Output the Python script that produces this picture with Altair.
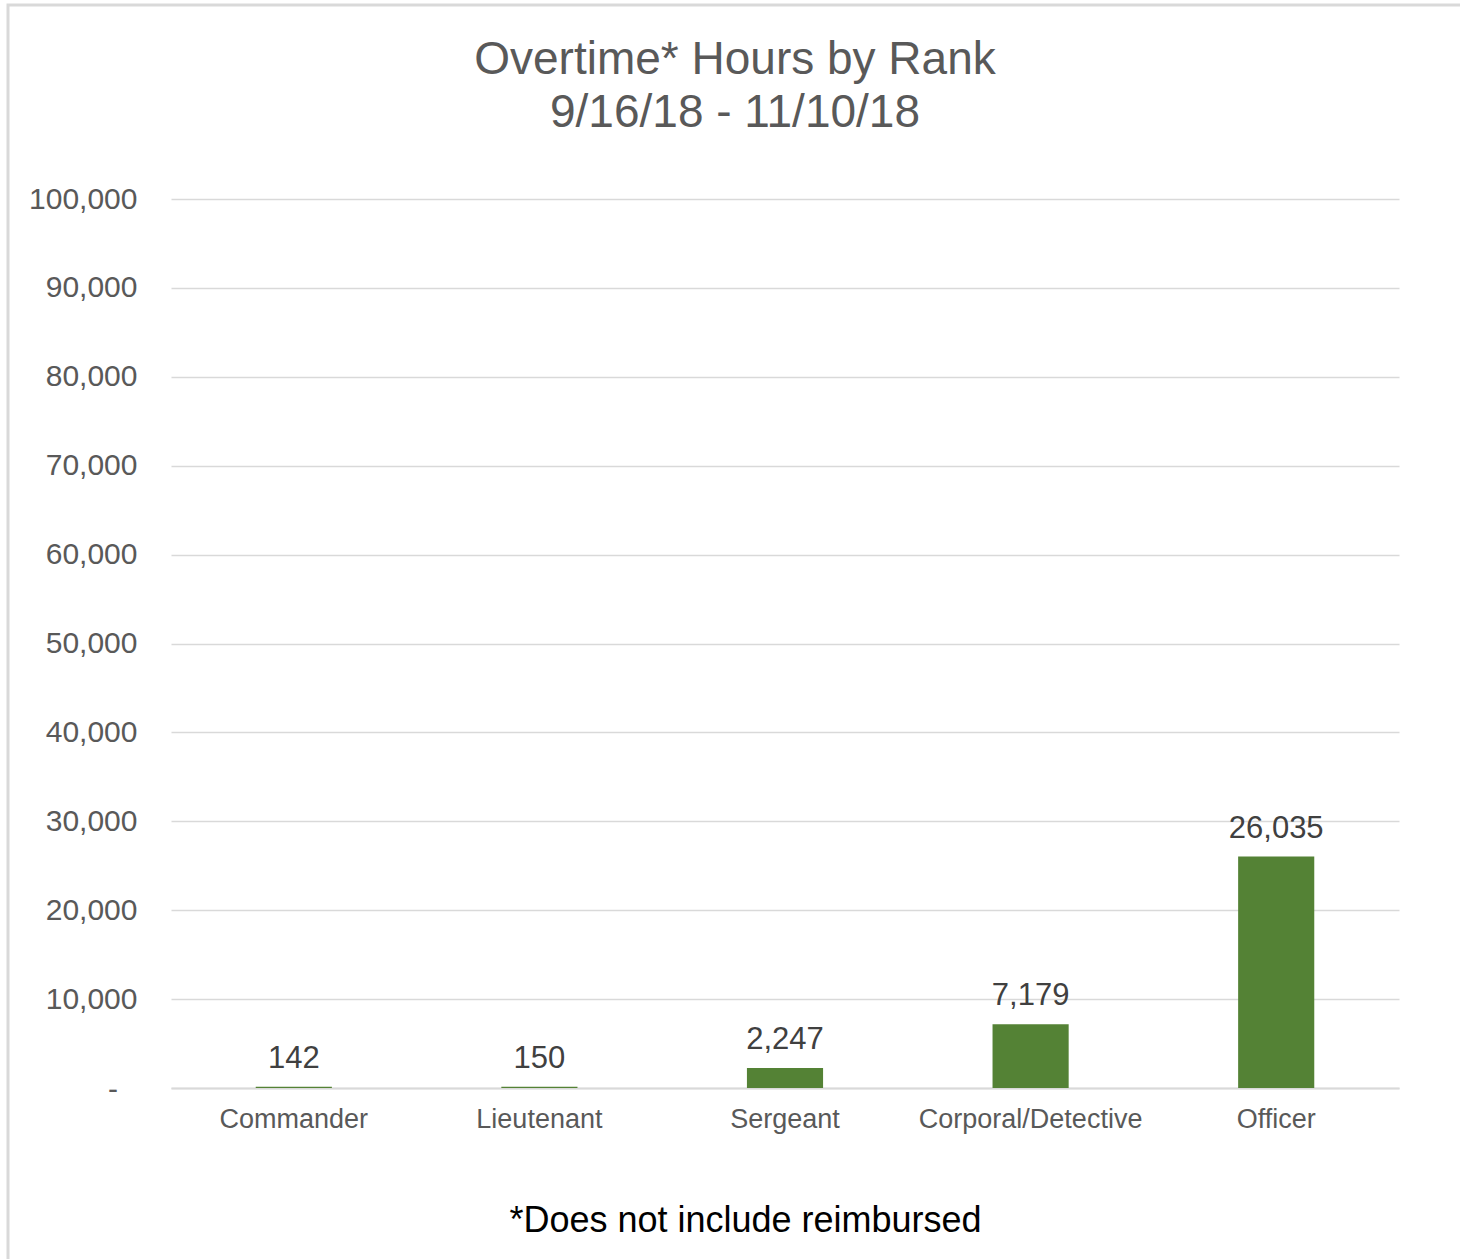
import altair as alt
import pandas as pd

ranks = ["Commander", "Lieutenant", "Sergeant", "Corporal/Detective", "Officer"]
hours = [142, 150, 2247, 7179, 26035]
y_ticks = [0, 10000, 20000, 30000, 40000, 50000, 60000, 70000, 80000, 90000, 100000]

df = pd.DataFrame({"rank": ranks, "hours": hours})

FONT = "Liberation Sans"
W, H = 1228, 889

x_enc = alt.X(
    "rank:N",
    sort=ranks,
    scale=alt.Scale(paddingInner=0.69, paddingOuter=0.345),
    axis=alt.Axis(
        title="*Does not include  reimbursed",
        titleFont=FONT,
        titleFontSize=36,
        titleFontWeight="normal",
        titleColor="#000000",
        titleX=574,
        titleY=115,
        labelFont=FONT,
        labelFontSize=27,
        labelColor="#595959",
        labelPadding=18,
        labelAngle=0,
        labelLimit=0,
        ticks=False,
        domainColor="#d9d9d9",
        domainWidth=2,
    ),
)

y_enc = alt.Y(
    "hours:Q",
    scale=alt.Scale(domain=[0, 100000], nice=False),
    axis=alt.Axis(
        title=None,
        values=y_ticks,
        labelExpr="datum.value == 0 ? '' : format(datum.value, ',')",
        labelFont=FONT,
        labelFontSize=30,
        labelColor="#595959",
        labelPadding=34,
        ticks=False,
        domain=False,
        gridColor="#d9d9d9",
        gridWidth=1.5,
    ),
)

bars = alt.Chart(df).mark_bar(color="#548235").encode(x=x_enc, y=y_enc)

labels = alt.Chart(df).mark_text(
    font=FONT, fontSize=31, color="#404040", baseline="alphabetic", dy=-19
).encode(
    x=alt.X("rank:N", sort=ranks),
    y=alt.Y("hours:Q"),
    text=alt.Text("hours:Q", format=","),
)

zero_label = alt.Chart(pd.DataFrame({"v": [0], "t": ["-"]})).mark_text(
    font=FONT, fontSize=30, color="#595959", align="right", baseline="middle", dy=2
).encode(
    x=alt.value(-53),
    y=alt.Y("v:Q"),
    text="t:N",
)

frame = alt.Chart(pd.DataFrame({"a": [0]})).mark_rect(
    fill=None, stroke="#d9d9d9", strokeWidth=3, clip=False
).encode(
    x=alt.value(-163),
    x2=alt.value(W + 61 + 10),
    y=alt.value(-194),
    y2=alt.value(H + 171 + 10),
)

chart = (
    alt.layer(frame, bars, labels, zero_label)
    .properties(
        width=W,
        height=H,
        background="white",
        autosize=alt.AutoSizeParams(type="none"),
        padding={"left": 171, "top": 199, "right": 61, "bottom": 171},
        title=alt.TitleParams(
            text=["Overtime* Hours by Rank", "9/16/18 - 11/10/18"],
            font=FONT,
            fontSize=46,
            fontWeight="normal",
            color="#595959",
            anchor="middle",
            frame="group",
            dx=-50,
            offset=0,
            dy=133,
            lineHeight=53,
        ),
    )
    .configure_view(strokeWidth=0, stroke=None)
)

chart.save("out.html", embed_options={"renderer": "svg", "actions": False})
